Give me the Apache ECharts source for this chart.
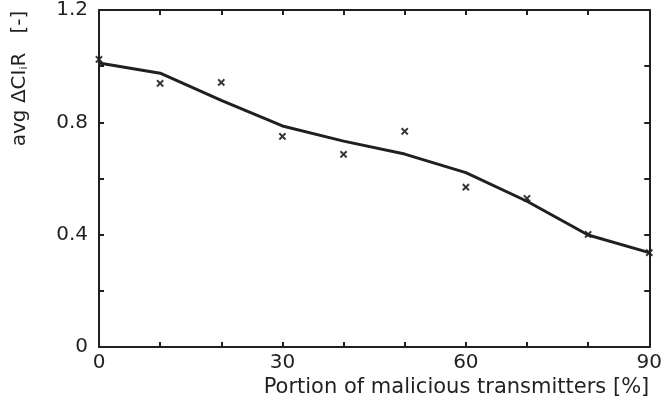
<!DOCTYPE html>
<html>
<head>
<meta charset="utf-8">
<script src="https://cdn.jsdelivr.net/npm/echarts@6/dist/echarts.min.js"></script>
<style>
  html, body { margin: 0; padding: 0; background: #fff; }
  #chart { width: 665px; height: 402px; }
</style>
</head>
<body>
<div id="chart"></div>
<script>
// Portion of malicious transmitters [%]
const portions = [0, 10, 20, 30, 40, 50, 60, 70, 80, 90];
// measured average ΔCIR per portion (crosses)
const measured = [1.024, 0.939, 0.942, 0.750, 0.686, 0.768, 0.569, 0.529, 0.401, 0.336];
// fitted trend (solid line)
const trend = [1.011, 0.975, 0.878, 0.787, 0.733, 0.687, 0.621, 0.519, 0.399, 0.336];
const xTicks = [0, 30, 60, 90];
const yTicks = [0, 0.4, 0.8, 1.2];

const FONT = 'DejaVu Sans';
const INK = '#231f20';
const crossPath = 'path://M0,1L1,0L5,4L9,0L10,1L6,5L10,9L9,10L5,6L1,10L0,9L4,5Z';

const chart = echarts.init(document.getElementById('chart'), null, { renderer: 'canvas' });

const frameAxis = {
  axisLine: { show: true, onZero: false, lineStyle: { color: INK, width: 2 } },
  axisTick: { show: true, inside: true, length: 5, lineStyle: { color: INK, width: 2 } },
  minorTick: { show: true, length: 5, lineStyle: { color: INK, width: 2 } },
  splitLine: { show: false },
  minorSplitLine: { show: false }
};

chart.setOption({
  animation: false,
  backgroundColor: '#fff',
  grid: { left: 99, right: 15, top: 7, bottom: 55, containLabel: false },
  xAxis: [
    Object.assign({}, frameAxis, {
      type: 'value',
      position: 'bottom',
      min: xTicks[0], max: xTicks[xTicks.length - 1], interval: xTicks[1] - xTicks[0],
      minorTick: Object.assign({}, frameAxis.minorTick, { splitNumber: 3 }),
      axisLabel: { color: INK, fontFamily: FONT, fontSize: 20, margin: 6, showMinLabel: true, showMaxLabel: true },
      name: 'Portion of malicious transmitters [%]',
      nameLocation: 'end',
      nameGap: 0,
      nameTextStyle: { color: INK, fontFamily: FONT, fontSize: 21, align: 'right', verticalAlign: 'top', padding: [30, 0, 0, 0] }
    }),
    Object.assign({}, frameAxis, {
      type: 'value',
      position: 'top',
      min: xTicks[0], max: xTicks[xTicks.length - 1], interval: xTicks[1] - xTicks[0],
      minorTick: Object.assign({}, frameAxis.minorTick, { splitNumber: 3 }),
      axisLabel: { show: false }
    })
  ],
  yAxis: [
    Object.assign({}, frameAxis, {
      type: 'value',
      position: 'left',
      min: yTicks[0], max: yTicks[yTicks.length - 1], interval: yTicks[1] - yTicks[0],
      minorTick: Object.assign({}, frameAxis.minorTick, { splitNumber: 2 }),
      axisLabel: { color: INK, fontFamily: FONT, fontSize: 20, margin: 11, showMinLabel: true, showMaxLabel: true },
      name: 'avg ΔCI{sub|i}R   [-]',
      nameLocation: 'middle',
      nameRotate: 90,
      nameGap: 69,
      nameTextStyle: {
        color: INK, fontFamily: FONT, fontSize: 20, padding: [0, 0, 0, 200],
        rich: { sub: { color: INK, fontFamily: FONT, fontSize: 11, padding: [8, 0, 0, 0] } }
      }
    }),
    Object.assign({}, frameAxis, {
      type: 'value',
      position: 'right',
      min: yTicks[0], max: yTicks[yTicks.length - 1], interval: yTicks[1] - yTicks[0],
      minorTick: Object.assign({}, frameAxis.minorTick, { splitNumber: 2 }),
      axisLabel: { show: false }
    })
  ],
  series: [
    {
      type: 'line',
      data: portions.map((p, i) => [p, trend[i]]),
      showSymbol: false,
      symbol: 'none',
      lineStyle: { color: INK, width: 3 },
      z: 3
    },
    {
      type: 'scatter',
      data: portions.map((p, i) => [p, measured[i]]),
      symbol: crossPath,
      symbolSize: 6,
      itemStyle: { color: INK, borderColor: INK, borderWidth: 1.2 },
      z: 4
    }
  ]
});
</script>
</body>
</html>
